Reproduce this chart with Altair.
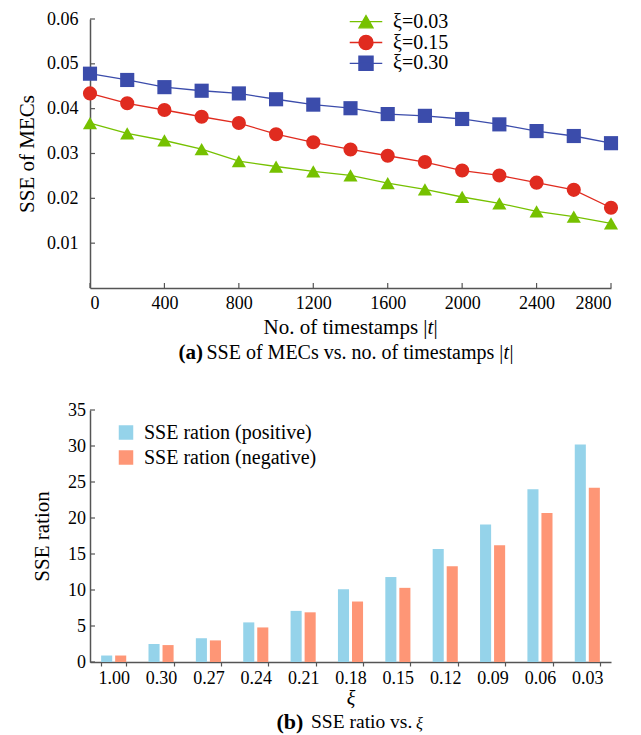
import altair as alt
import pandas as pd

# ---------------- data: panel (a) ----------------
timestamps = [0, 200, 400, 600, 800, 1000, 1200, 1400, 1600, 1800, 2000, 2200, 2400, 2600, 2800]
sse_xi_003 = [0.0368, 0.0345, 0.0329, 0.0310, 0.0283, 0.0271, 0.0260, 0.0251, 0.0234, 0.0220,
              0.0203, 0.0189, 0.0171, 0.0159, 0.0144]
sse_xi_015 = [0.0434, 0.0412, 0.0397, 0.0382, 0.0368, 0.0343, 0.0325, 0.0309, 0.0295, 0.0281,
              0.0262, 0.0251, 0.0235, 0.0219, 0.0179]
sse_xi_030 = [0.0478, 0.0464, 0.0448, 0.0440, 0.0434, 0.0421, 0.0409, 0.0401, 0.0388, 0.0384,
              0.0377, 0.0365, 0.0350, 0.0339, 0.0323]
series_names = ["ξ=0.03", "ξ=0.15", "ξ=0.30"]
x_ticks_a = [0, 400, 800, 1200, 1600, 2000, 2400, 2800]
y_ticks_a = [0.01, 0.02, 0.03, 0.04, 0.05, 0.06]

# ---------------- data: panel (b) ----------------
xi_labels = ["1.00", "0.30", "0.27", "0.24", "0.21", "0.18", "0.15", "0.12", "0.09", "0.06", "0.03"]
ratio_positive = [0.9, 2.5, 3.3, 5.5, 7.1, 10.1, 11.8, 15.7, 19.1, 24.0, 30.2]
ratio_negative = [0.9, 2.35, 3.0, 4.8, 6.9, 8.4, 10.3, 13.3, 16.2, 20.7, 24.2]
kinds = ["SSE ration (positive)", "SSE ration (negative)"]
y_ticks_b = [0, 5, 10, 15, 20, 25, 30, 35]

# ---------------- styling ----------------
FONT = "Liberation Serif"
AXIS_GRAY = "#555555"
series_colors = ["#76c100", "#e02b1f", "#3b4cab"]
series_shapes = ["triangle-up", "circle", "square"]
legend_paths = [
    "M-2.3,0H2.3M0,-0.866L1,0.866L-1,0.866Z",
    "M-2.3,0H-1M1,0H2.3M1,0A1,1,0,1,1,-1,0A1,1,0,1,1,1,0Z",
    "M-2.3,0H2.3M-1,-1H1V1H-1Z",
]
bar_colors = ["#95d3ea", "#fe9676"]
WA, HA = 521, 269
WB, HB = 521, 252

series_values = [sse_xi_003, sse_xi_015, sse_xi_030]
df_a = pd.DataFrame([
    {"t": t, "sse": v, "series": name}
    for name, vals in zip(series_names, series_values)
    for t, v in zip(timestamps, vals)
])

rows = []
for xi, p, n in zip(xi_labels, ratio_positive, ratio_negative):
    rows.append({"xi": xi, "kind": kinds[0], "ratio": p})
    rows.append({"xi": xi, "kind": kinds[1], "ratio": n})
df_b = pd.DataFrame(rows)


def txt(s, x, y, size=20, weight="normal", style="normal", align="left"):
    return alt.Chart(pd.DataFrame({"s": [s]})).mark_text(
        align=align, baseline="middle", font=FONT, fontSize=size,
        fontWeight=weight, fontStyle=style, color="black"
    ).encode(text="s:N", x=alt.value(x), y=alt.value(y))


# ---------------- panel (a) ----------------
axis_xa = alt.Axis(values=x_ticks_a, title=None, ticks=False, labelPadding=6, grid=False,
                   format="d", labelFont=FONT, labelFontSize=18, labelOverlap=False)
axis_ya = alt.Axis(values=y_ticks_a, format=".2f", ticks=False, labelPadding=12,
                   title="SSE of MECs", titlePadding=9, grid=False, labelFont=FONT,
                   labelFontSize=18, titleFont=FONT, titleFontSize=21, labelOverlap=False)
xa = alt.X("t:Q", scale=alt.Scale(domain=[0, 2800], nice=False), axis=axis_xa)
ya = alt.Y("sse:Q", scale=alt.Scale(domain=[0, 0.06], nice=False), axis=axis_ya)

lines_a = alt.Chart(df_a).mark_line(strokeWidth=1.3).encode(
    x=xa, y=ya,
    color=alt.Color("series:N", scale=alt.Scale(domain=series_names, range=series_colors),
                    legend=None))

point_layers = []
for i, (name, col, shp, path) in enumerate(zip(series_names, series_colors, series_shapes, legend_paths)):
    sub = df_a[df_a["series"] == name]
    leg = alt.Legend(
        title=None, orient="none", legendX=266, legendY=-7.3 + i * 20.8,
        labelFont=FONT, labelFontSize=20, labelColor="black", labelOffset=17, labelLimit=300,
        symbolType=path, symbolSize=200, symbolFillColor=col, symbolStrokeColor=col,
        symbolStrokeWidth=1.3, symbolOpacity=1, padding=0,
    )
    point_layers.append(
        alt.Chart(sub).mark_point(filled=True, size=200, opacity=1, shape=shp).encode(
            x=xa, y=ya,
            color=alt.Color("series:N", scale=alt.Scale(domain=[name], range=[col]), legend=leg))
    )

xt_a = alt.Chart(pd.DataFrame({"t": x_ticks_a})).mark_rule(color=AXIS_GRAY, strokeWidth=1.2).encode(
    x=alt.X("t:Q", axis=axis_xa), y=alt.value(HA), y2=alt.value(HA - 5))
yt_a = alt.Chart(pd.DataFrame({"sse": y_ticks_a})).mark_rule(color=AXIS_GRAY, strokeWidth=1.2).encode(
    y=alt.Y("sse:Q", axis=axis_ya), x=alt.value(0), x2=alt.value(5))

xtitle_a = [
    txt("No. of timestamps |", 173.5, 309, size=21),
    txt("t", 337.5, 309, size=21, style="italic"),
    txt("|", 343.5, 309, size=21),
]
cap_a = [
    txt("(a)", 88.5, 334, size=21, weight="bold"),
    txt("SSE of MECs vs. no. of timestamps |", 116.5, 334, size=20),
    txt("t", 413.5, 334, size=20, style="italic"),
    txt("|", 419.5, 334, size=20),
]

panel_a = alt.layer(lines_a, *point_layers, xt_a, yt_a, *xtitle_a, *cap_a).resolve_scale(
    color="independent").resolve_legend(color="independent").properties(width=WA, height=HA)

# ---------------- panel (b) ----------------
leg_b = alt.Legend(
    title=None, orient="none", legendX=26, legendY=12.5,
    labelFont=FONT, labelFontSize=20, labelColor="black", labelOffset=8, labelLimit=400,
    symbolType="square", symbolSize=210, symbolStrokeWidth=0, rowPadding=5, padding=0,
)
axis_xb = alt.Axis(title="ξ", titleFontStyle="italic", titlePadding=1, labelAngle=0,
                   tickBand="extent", ticks=True, tickSize=4, tickColor=AXIS_GRAY,
                   tickWidth=1.2, labelPadding=3, grid=False, labelFont=FONT,
                   labelFontSize=18, titleFont=FONT, titleFontSize=20)
axis_yb = alt.Axis(values=y_ticks_b, ticks=False, labelPadding=4.5, title="SSE ration",
                   titlePadding=15, grid=False, labelFont=FONT, labelFontSize=18,
                   titleFont=FONT, titleFontSize=21, labelOverlap=False)
xb = alt.X("xi:N", sort=xi_labels,
           scale=alt.Scale(paddingInner=0.47, paddingOuter=0.235), axis=axis_xb)
yb = alt.Y("ratio:Q", scale=alt.Scale(domain=[0, 35], nice=False), axis=axis_yb)
bars_b = alt.Chart(df_b).mark_bar().encode(
    x=xb, y=yb,
    xOffset=alt.XOffset("kind:N", sort=kinds, scale=alt.Scale(paddingInner=0.21)),
    color=alt.Color("kind:N", scale=alt.Scale(domain=kinds, range=bar_colors), legend=leg_b),
)
yt_b = alt.Chart(pd.DataFrame({"ratio": y_ticks_b})).mark_rule(color=AXIS_GRAY, strokeWidth=1.2).encode(
    y=alt.Y("ratio:Q", axis=axis_yb), x=alt.value(0), x2=alt.value(5))
cap_b = [
    txt("(b)", 186.5, 312, size=22, weight="bold"),
    txt("SSE ratio vs.", 221, 312, size=19.5),
    txt("ξ", 326, 314, size=16, style="italic"),
]
panel_b = alt.layer(bars_b, yt_b, *cap_b).properties(width=WB, height=HB)

chart = alt.vconcat(panel_a, panel_b, spacing=38).resolve_scale(
    color="independent").resolve_legend(color="independent").properties(
    padding={"left": 8, "top": 2, "right": 5, "bottom": 2}
).configure(font=FONT).configure_view(strokeWidth=0).configure_axis(
    domainColor=AXIS_GRAY, domainWidth=1.5, labelFont=FONT, labelFontSize=18,
    labelColor="black", titleFont=FONT, titleFontSize=21, titleColor="black",
    titleFontWeight="normal"
)

chart.save("out.html", embed_options={"renderer": "svg", "actions": False})
